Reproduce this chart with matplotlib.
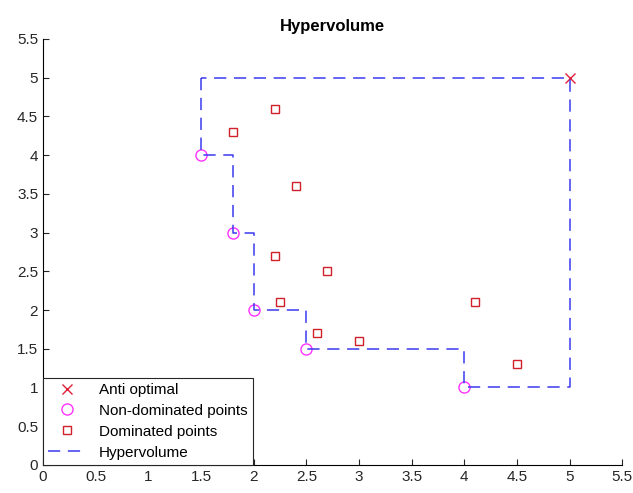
import matplotlib
matplotlib.use('Agg')
import matplotlib.pyplot as plt

# reference (anti-optimal) point
anti_x = [5.0]
anti_y = [5.0]

# non-dominated front
front_x = [1.5, 1.8, 2.0, 2.5, 4.0]
front_y = [4.0, 3.0, 2.0, 1.5, 1.0]

# dominated points
dom_x = [1.8, 2.2, 2.4, 2.2, 2.7, 2.25, 2.6, 3.0, 4.1, 4.5]
dom_y = [4.3, 4.6, 3.6, 2.7, 2.5, 2.1, 1.7, 1.6, 2.1, 1.3]


def hypervolume_outline(xs, ys, ref_x, ref_y):
    hx, hy = [xs[0]], [ref_y]
    for i in range(len(xs)):
        hx.append(xs[i]); hy.append(ys[i])
        nx = xs[i + 1] if i + 1 < len(xs) else ref_x
        hx.append(nx); hy.append(ys[i])
    hx += [ref_x, xs[0]]
    hy += [ref_y, ref_y]
    return hx, hy


plt.rcParams['font.family'] = ['Liberation Sans', 'DejaVu Sans']

fig = plt.figure(figsize=(6.33, 4.93), dpi=100)
ax = fig.add_axes([0.068, 0.057, 0.915, 0.864])

hv_x, hv_y = hypervolume_outline(front_x, front_y, anti_x[0], anti_y[0])

ax.plot(anti_x, anti_y, 'x', color='#e0203a', ms=7, mew=1.0, label='Anti optimal')
ax.plot(front_x, front_y, 'o', color='#ff33ff', mfc='none', ms=8, mew=1.0,
        label='Non-dominated points')
ax.plot(dom_x, dom_y, 's', color='#d0202a', mfc='none', ms=6, mew=1.0,
        label='Dominated points')
ax.plot(hv_x, hv_y, '--', color='#3a3af0', lw=1.1, dashes=(8, 5),
        label='Hypervolume')

ax.set_xlim(0, 5.5)
ax.set_ylim(0, 5.5)
ticks = [0, 0.5, 1, 1.5, 2, 2.5, 3, 3.5, 4, 4.5, 5, 5.5]
labels = ['0', '0.5', '1', '1.5', '2', '2.5', '3', '3.5', '4', '4.5', '5', '5.5']
ax.set_xticks(ticks, labels)
ax.set_yticks(ticks, labels)
ax.tick_params(direction='in', length=4, labelsize=11, colors='#262626')
ax.spines['top'].set_visible(False)
ax.spines['right'].set_visible(False)
ax.set_title('Hypervolume', fontsize=12, fontweight='bold')

leg = ax.legend(loc='lower left', borderaxespad=0, fontsize=11, fancybox=False,
                framealpha=1, edgecolor='#262626', handlelength=2.4,
                borderpad=0.35, labelspacing=0.45, handletextpad=0.9)
leg.get_frame().set_linewidth(0.8)

fig.savefig('out.png', dpi=100)
